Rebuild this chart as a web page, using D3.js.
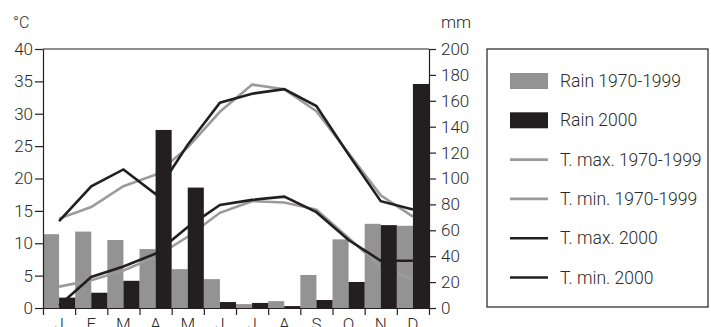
<!DOCTYPE html>
<html>
<head>
<meta charset="utf-8">
<style>
  body { margin: 0; background: #fff; }
  text { font-family: Roboto, "Liberation Sans", sans-serif; font-weight: 300; fill: #2a2a2a; }
  .axis path, .axis line { stroke: #231f20; stroke-width: 1.2; }
</style>
</head>
<body>
<svg class="chart"></svg>
<script src="https://cdn.jsdelivr.net/npm/d3@7"></script>
<script>
// monthly climate data
var months = ['J', 'F', 'M', 'A', 'M', 'J', 'J', 'A', 'S', 'O', 'N', 'D'];
var rainNormal = [57, 59, 52.5, 45.5, 30, 22.3, 3, 5.3, 25.5, 53, 65, 63.5];
var rain2000 = [8, 11.8, 21, 137.5, 93, 4.6, 3.9, 1.5, 6.2, 20.1, 64, 173];
var tmaxNormal = [13.8, 15.6, 18.8, 20.6, 24.8, 30.3, 34.5, 33.8, 30.4, 23.9, 17.4, 14.1];
var tminNormal = [3.3, 4.3, 5.8, 7.9, 11.0, 14.7, 16.5, 16.3, 15.2, 10.8, 6.4, 4.4];
var tmax2000 = [13.4, 18.8, 21.4, 17.6, 25.2, 31.7, 33.1, 33.8, 31.2, 23.7, 16.5, 15.2];
var tmin2000 = [0.4, 4.8, 6.4, 8.4, 12.5, 15.9, 16.7, 17.2, 14.8, 10.5, 7.3, 7.3];
var tempTicks = [0, 5, 10, 15, 20, 25, 30, 35, 40];
var rainTicks = [0, 20, 40, 60, 80, 100, 120, 140, 160, 180, 200];
var legendLabels = ['Rain 1970-1999', 'Rain 2000', 'T. max. 1970-1999', 'T. min. 1970-1999', 'T. max. 2000', 'T. min. 2000'];

var grey = '#939393', dark = '#231f20', greyLine = '#9b9b9b';

var margin = {top: 49, right: 282, bottom: 19, left: 43},
    width = 711 - margin.left - margin.right,
    height = 327 - margin.top - margin.bottom;

var chart = d3.select('.chart')
    .attr('width', 711)
    .attr('height', 327);

var x = d3.scaleBand().domain(d3.range(12)).range([0, width]),
    xb = d3.scaleLinear().domain([0, 12]).range([0, width]),
    yT = d3.scaleLinear().domain([0, 40]).range([height, 0]),
    yR = d3.scaleLinear().domain([0, 200]).range([height, 0]);

var g = chart.append('g')
    .attr('transform', 'translate(' + margin.left + ',' + margin.top + ')');

// top border of the plot
g.append('line')
    .attr('x1', 0).attr('x2', width)
    .attr('y1', 0).attr('y2', 0)
    .attr('stroke', dark).attr('stroke-width', 1.2);

var bw = x.bandwidth() / 2;
function cx(d, i) { return x(i) + bw; }

// grey bars under the lines
g.selectAll('.bar-normal')
    .data(rainNormal)
  .enter().append('rect')
    .attr('class', 'bar-normal')
    .attr('x', function(d, i) { return x(i); })
    .attr('y', function(d) { return yR(d); })
    .attr('width', bw)
    .attr('height', function(d) { return height - yR(d); })
    .attr('fill', grey);

var line = d3.line()
    .x(cx)
    .y(function(d) { return yT(d); });

var series = [
  {v: tmaxNormal, c: greyLine},
  {v: tminNormal, c: greyLine},
  {v: tmax2000, c: dark},
  {v: tmin2000, c: dark}
];

g.selectAll('.temp')
    .data(series)
  .enter().append('path')
    .attr('class', 'temp')
    .attr('d', function(s) { return line(s.v); })
    .attr('fill', 'none')
    .attr('stroke', function(s) { return s.c; })
    .attr('stroke-width', 2.6)
    .attr('stroke-linejoin', 'miter');

// black bars on top
g.selectAll('.bar-2000')
    .data(rain2000)
  .enter().append('rect')
    .attr('class', 'bar-2000')
    .attr('x', function(d, i) { return x(i) + bw; })
    .attr('y', function(d) { return yR(d); })
    .attr('width', bw)
    .attr('height', function(d) { return height - yR(d); })
    .attr('fill', dark);

// axes
g.append('g')
    .attr('class', 'axis axis--left')
    .call(d3.axisLeft(yT).tickValues(tempTicks).tickSize(8).tickSizeOuter(0).tickPadding(2))
    .call(function(a) { a.selectAll('text').style('font-size', '17px'); });

g.append('g')
    .attr('class', 'axis axis--right')
    .attr('transform', 'translate(' + width + ',0)')
    .call(d3.axisRight(yR).tickValues(rainTicks).tickSize(7).tickSizeOuter(0).tickPadding(5))
    .call(function(a) { a.selectAll('text').style('font-size', '17px'); });

g.append('g')
    .attr('class', 'axis axis--x')
    .attr('transform', 'translate(0,' + height + ')')
    .call(d3.axisBottom(xb).tickValues(d3.range(13)).tickSize(7).tickSizeOuter(0).tickFormat(''));

g.append('g')
    .selectAll('.month')
    .data(months)
  .enter().append('text')
    .attr('class', 'month')
    .attr('x', cx)
    .attr('y', height + 22)
    .attr('text-anchor', 'middle')
    .style('font-size', '17px')
    .text(function(d) { return d; });

// unit labels
chart.append('text').attr('x', 13).attr('y', 28).style('font-size', '16px').text('°C');
chart.append('text').attr('x', margin.left + width + 12).attr('y', 28).style('font-size', '17px').text('mm');

// legend
var lg = chart.append('g').attr('transform', 'translate(487,49)');

lg.append('rect')
    .attr('x', 0).attr('y', 0)
    .attr('width', 221).attr('height', 258)
    .attr('fill', 'none')
    .attr('stroke', dark)
    .attr('stroke-width', 1.2);

var swatch = [
  {type: 'rect', c: grey},
  {type: 'rect', c: dark},
  {type: 'line', c: greyLine},
  {type: 'line', c: greyLine},
  {type: 'line', c: dark},
  {type: 'line', c: dark}
];

var item = lg.selectAll('.item')
    .data(legendLabels)
  .enter().append('g')
    .attr('class', 'item')
    .attr('transform', function(d, i) { return 'translate(23,' + (32 + i * 39.3) + ')'; });

item.each(function(d, i) {
  var s = d3.select(this);
  if (swatch[i].type == 'rect') {
    s.append('rect').attr('x', 0).attr('y', -8).attr('width', 38).attr('height', 16).attr('fill', swatch[i].c);
  } else {
    s.append('line').attr('x1', 0).attr('x2', 38).attr('y1', 0).attr('y2', 0)
      .attr('stroke', swatch[i].c).attr('stroke-width', 2.6);
  }
});

item.append('text')
    .attr('x', 50)
    .attr('y', 6)
    .style('font-size', '17.5px')
    .text(function(d) { return d; });
</script>
</body>
</html>
